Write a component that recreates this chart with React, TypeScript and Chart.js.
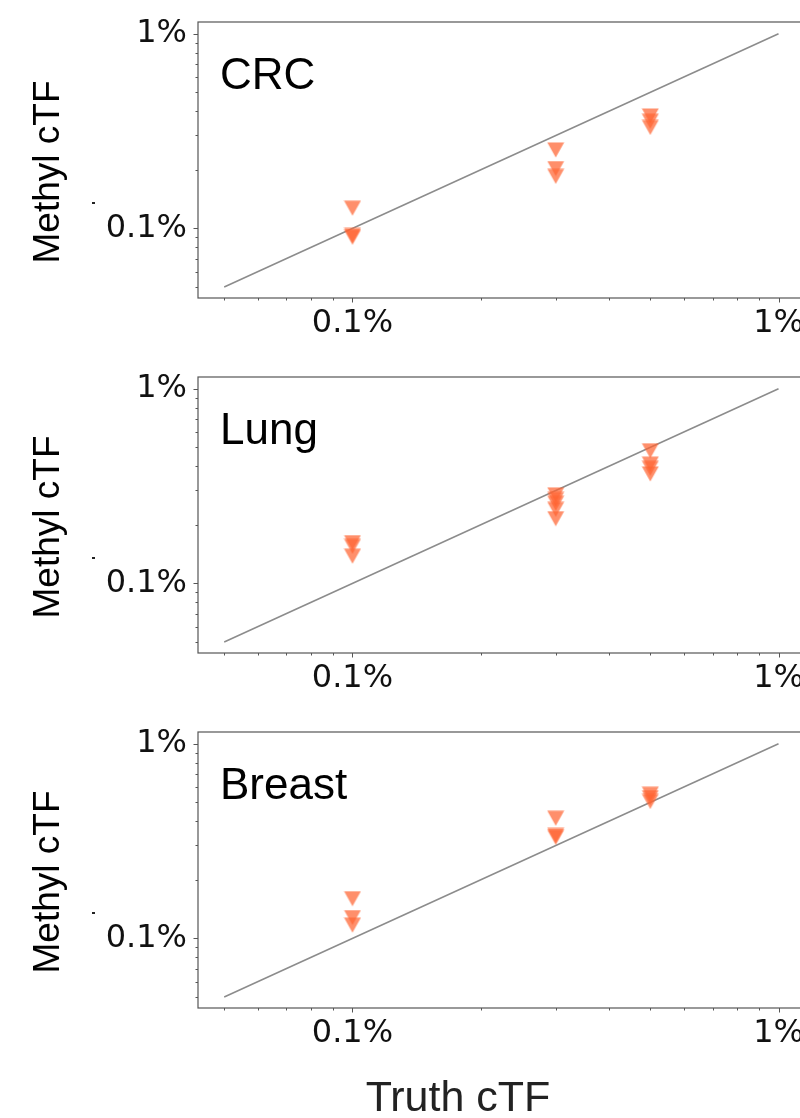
import React, { useEffect, useRef } from 'react';
import { Chart, registerables } from 'chart.js';

Chart.register(...registerables);

// ---------- data (values in percent) ----------
const panelNames = ['CRC', 'Lung', 'Breast'];

const crcTruth = [0.1, 0.1, 0.1, 0.3, 0.3, 0.3, 0.5, 0.5, 0.5];
const crcMethyl = [0.127, 0.092, 0.09, 0.253, 0.203, 0.185, 0.378, 0.355, 0.33];

const lungTruth = [0.1, 0.1, 0.1, 0.3, 0.3, 0.3, 0.3, 0.3, 0.5, 0.5, 0.5, 0.5];
const lungMethyl = [0.162, 0.155, 0.138, 0.285, 0.27, 0.258, 0.24, 0.215, 0.48, 0.41, 0.39, 0.365];

const breastTruth = [0.1, 0.1, 0.1, 0.3, 0.3, 0.3, 0.5, 0.5, 0.5];
const breastMethyl = [0.16, 0.128, 0.117, 0.414, 0.338, 0.33, 0.55, 0.528, 0.505];

const identityLine = [0.05, 1];

const majorTicks = [0.1, 1];
const tickLabels = ['0.1%', '1%'];
const minorTicks = [0.05, 0.06, 0.07, 0.08, 0.09, 0.2, 0.3, 0.4, 0.5, 0.6, 0.7, 0.8, 0.9];

const xRange = [0.0434, 1.16];
const yRange = [0.0439, 1.148];

const xTitle = 'Truth cTF';
const yTitle = 'Methyl cTF';

const truthSets = [crcTruth, lungTruth, breastTruth];
const methylSets = [crcMethyl, lungMethyl, breastMethyl];

// ---------- styles ----------
const CANVAS_W = 830;
const PANEL_H = 355;
const LAST_H = 408;
const AXIS_COLOR = '#555555';
const TICK_FONT = 'DejaVu Sans';
const TEXT_FONT = '"Liberation Sans", Arial, sans-serif';

function makeTriangle(): HTMLCanvasElement {
  const c = document.createElement('canvas');
  c.width = 18;
  c.height = 16;
  const g = c.getContext('2d')!;
  g.fillStyle = 'rgba(255,100,50,0.72)';
  g.beginPath();
  g.moveTo(0.5, 0.5);
  g.lineTo(17.5, 0.5);
  g.lineTo(9, 15.5);
  g.closePath();
  g.fill();
  return c;
}

function decorPlugin(name: string, withXTitle: boolean) {
  return {
    id: 'decor',
    afterDraw(chart: any) {
      const { ctx, chartArea: a, scales } = chart;
      const xs = scales.x;
      const ys = scales.y;
      ctx.save();
      // frame
      ctx.strokeStyle = AXIS_COLOR;
      ctx.lineWidth = 1.2;
      ctx.strokeRect(a.left, a.top, a.right - a.left, a.bottom - a.top);
      // ticks
      ctx.lineWidth = 1;
      const all = [...minorTicks.map((v) => [v, 2.5]), ...majorTicks.map((v) => [v, 4.5])];
      all.forEach(([v, len]) => {
        if (v >= xRange[0] && v <= xRange[1]) {
          const px = Math.round(xs.getPixelForValue(v)) + 0.5;
          ctx.beginPath();
          ctx.moveTo(px, a.bottom);
          ctx.lineTo(px, a.bottom + len);
          ctx.stroke();
        }
        if (v >= yRange[0] && v <= yRange[1]) {
          const py = Math.round(ys.getPixelForValue(v)) + 0.5;
          ctx.beginPath();
          ctx.moveTo(a.left, py);
          ctx.lineTo(a.left - len, py);
          ctx.stroke();
        }
      });
      // panel label
      ctx.fillStyle = '#000';
      ctx.font = `44px ${TEXT_FONT}`;
      ctx.textAlign = 'left';
      ctx.textBaseline = 'alphabetic';
      ctx.fillText(name, a.left + 22, a.top + 67);
      // y title
      ctx.save();
      ctx.translate(49, a.top + 150);
      ctx.rotate(-Math.PI / 2);
      ctx.font = `37px ${TEXT_FONT}`;
      ctx.textAlign = 'center';
      ctx.textBaseline = 'middle';
      ctx.fillText(yTitle, 0, 0);
      ctx.restore();
      // stray dot
      ctx.fillStyle = '#222';
      ctx.fillRect(92, a.top + 180, 3, 2);
      // x title
      if (withXTitle) {
        ctx.font = `43px ${TEXT_FONT}`;
        ctx.textAlign = 'center';
        ctx.textBaseline = 'alphabetic';
        ctx.fillText(xTitle, 458, a.bottom + 102.5);
      }
      ctx.restore();
    },
  };
}

function Panel({ index }: { index: number }) {
  const ref = useRef<HTMLCanvasElement | null>(null);
  const last = index === panelNames.length - 1;
  const h = last ? LAST_H : PANEL_H;
  useEffect(() => {
    if (!ref.current) return;
    const tri = makeTriangle();
    const truth = truthSets[index];
    const methyl = methylSets[index];
    const chart = new Chart(ref.current, {
      type: 'scatter',
      data: {
        datasets: [
          {
            data: identityLine.map((v) => ({ x: v, y: v })),
            showLine: true,
            borderColor: '#8c8c8c',
            borderWidth: 1.6,
            pointRadius: 0,
            order: 2,
          },
          {
            data: truth.map((t, i) => ({ x: t, y: methyl[i] })),
            pointStyle: tri as any,
            pointRadius: 9,
            order: 1,
          },
        ],
      },
      options: {
        responsive: false,
        animation: false,
        devicePixelRatio: 1,
        layout: { padding: { left: 0, top: 22, right: CANVAS_W - 806, bottom: last ? LAST_H - 22 - 276 - 57 : 0 } },
        plugins: { legend: { display: false }, tooltip: { enabled: false } },
        scales: {
          x: {
            type: 'logarithmic',
            min: xRange[0],
            max: xRange[1],
            bounds: 'data',
            border: { display: false },
            grid: { display: false, drawTicks: false },
            afterBuildTicks: (s: any) => {
              s.ticks = majorTicks.map((v) => ({ value: v }));
            },
            afterFit: (s: any) => {
              s.height = 57;
              s.paddingLeft = 0;
              s.paddingRight = 0;
              s.paddingTop = 0;
              s.paddingBottom = 0;
            },
            ticks: {
              autoSkip: false,
              maxRotation: 0,
              minRotation: 0,
              padding: 6,
              color: '#111',
              font: { family: TICK_FONT, size: 32 },
              callback: (v: any) => tickLabels[majorTicks.indexOf(Number(v))] ?? '',
            },
          },
          y: {
            type: 'logarithmic',
            min: yRange[0],
            max: yRange[1],
            bounds: 'data',
            border: { display: false },
            grid: { display: false, drawTicks: false },
            afterBuildTicks: (s: any) => {
              s.ticks = majorTicks.map((v) => ({ value: v }));
            },
            afterFit: (s: any) => {
              s.width = 198;
              s.paddingLeft = 0;
              s.paddingRight = 0;
              s.paddingTop = 0;
              s.paddingBottom = 0;
            },
            ticks: {
              autoSkip: false,
              padding: 11,
              color: '#111',
              font: { family: TICK_FONT, size: 32 },
              callback: (v: any) => tickLabels[majorTicks.indexOf(Number(v))] ?? '',
            },
          },
        },
      },
      plugins: [decorPlugin(panelNames[index], last)],
    } as any);
    return () => chart.destroy();
  }, [index]);
  return (
    <canvas
      ref={ref}
      width={CANVAS_W}
      height={h}
      style={{ position: 'absolute', left: 0, top: index * PANEL_H, width: CANVAS_W, height: h, display: 'block' }}
    />
  );
}

export default function App() {
  return (
    <div
      style={{
        position: 'absolute',
        left: 0,
        top: 0,
        width: 800,
        height: 1118,
        overflow: 'hidden',
        background: '#fff',
      }}
    >
      {panelNames.map((_, i) => (
        <Panel key={i} index={i} />
      ))}
    </div>
  );
}
